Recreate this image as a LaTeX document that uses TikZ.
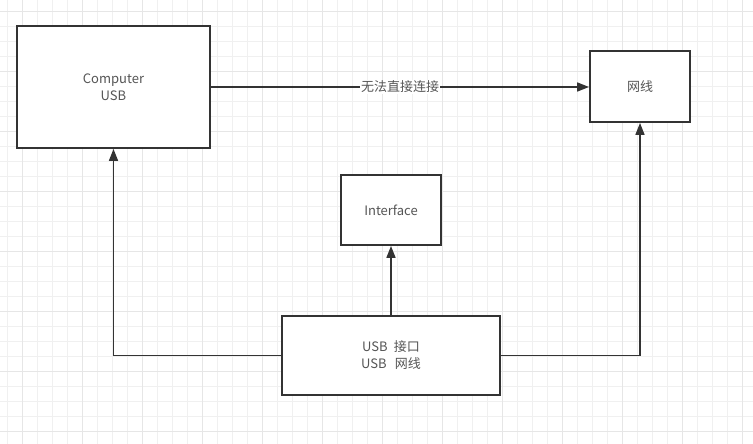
\documentclass[tikz,border=0pt]{standalone}
\usepackage{fontspec}
\setmainfont{Noto Sans CJK SC}
\usetikzlibrary{arrows.meta,positioning,calc}
\definecolor{boxline}{HTML}{333333}
\definecolor{txtgray}{HTML}{555555}
\definecolor{gridfaint}{HTML}{F0F0F0}
\definecolor{gridmid}{HTML}{E6E6E6}

\tikzset{
  block/.style={draw=boxline,line width=1.8pt,fill=white,align=center,text=txtgray,
    font=\fontsize{13}{17}\selectfont,inner sep=0pt},
  link/.style={draw=boxline,line width=1.5pt,-{Triangle[length=12pt,width=9pt]}},
  linklabel/.style={fill=white,text=txtgray,font=\fontsize{13}{15}\selectfont,inner sep=1pt},
}

\begin{document}
\begin{tikzpicture}[x=1pt,y=-1pt]
  \useasboundingbox (0,0) rectangle (753,444);
  \fill[white] (0,0) rectangle (753,444);

  % grid
  \foreach \gx in {0,...,49}
    \draw[gridfaint,line width=1pt] ({7.7+15*\gx},0) -- ({7.7+15*\gx},444);
  \foreach \gy in {0,...,29}
    \draw[gridfaint,line width=1pt] (0,{11.7+15*\gy}) -- (753,{11.7+15*\gy});
  \foreach \gx in {0,...,12}
    \draw[gridmid,line width=1pt] ({22.7+60*\gx},0) -- ({22.7+60*\gx},444);
  \foreach \gy in {0,...,7}
    \draw[gridmid,line width=1pt] (0,{11.7+60*\gy}) -- (753,{11.7+60*\gy});

  % boxes
  \node[block,minimum width=193pt,minimum height=122pt] (pc) at (113.5,87) {Computer\\USB};
  \node[block,minimum width=100pt,minimum height=71pt] (wire) at (640,86.5) {网线};
  \node[block,minimum width=100pt,minimum height=70pt] (iface) at (391,210) {Interface};
  \node[block,minimum width=218pt,minimum height=79pt] (usb) at (391,355.5)
    {USB\hspace{6pt}接口\\USB\hspace{8pt}网线};

  % connectors
  \draw[link] (pc.east) -- (pc.east -| wire.west) node[midway,linklabel] (nolink) {无法直接连接};
  \draw[link] (usb) -- (iface);
  \draw[link] (usb.west) -| (pc.south);
  \draw[link] (usb.east) -| (wire.south);
\end{tikzpicture}
\end{document}
